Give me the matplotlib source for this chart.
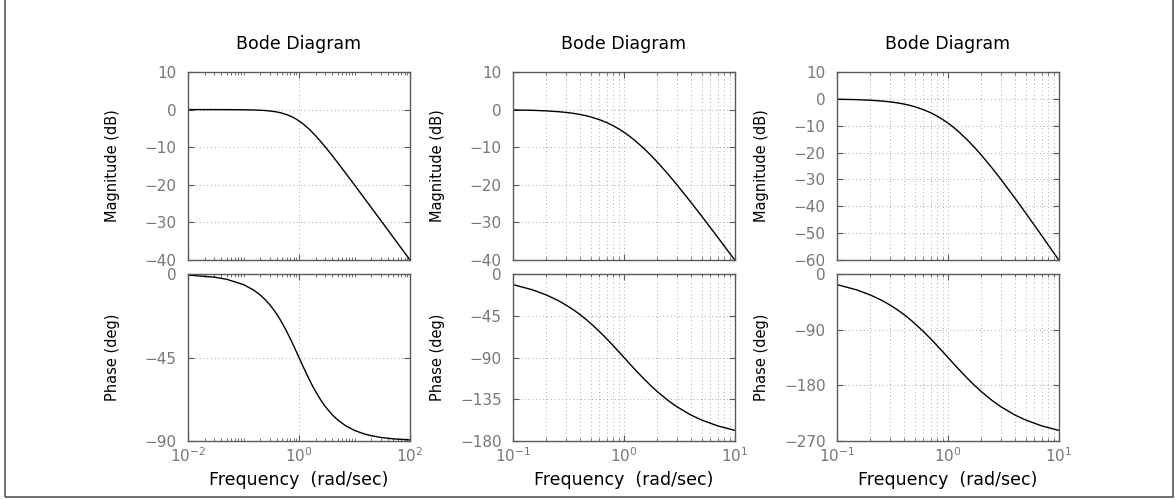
import matplotlib
matplotlib.use("Agg")
import matplotlib.pyplot as plt
from matplotlib.patches import Rectangle
from matplotlib.ticker import LogLocator, NullFormatter

# frequency samples (rad/sec)
w_wide = [0.01, 0.03, 0.05, 0.1, 0.15, 0.2, 0.25, 0.3, 0.35, 0.4, 0.45, 0.5, 0.6, 0.7, 0.8,
          0.9, 1.0, 1.1, 1.25, 1.5, 1.75, 2.0, 2.5, 3.0, 4.0, 5.0, 7.0, 10.0, 15.0, 20.0,
          30.0, 50.0, 100.0]
w_narrow = [0.1, 0.15, 0.2, 0.25, 0.3, 0.35, 0.4, 0.45, 0.5, 0.6, 0.7, 0.8, 0.9, 1.0, 1.1,
            1.25, 1.5, 1.75, 2.0, 2.5, 3.0, 4.0, 5.0, 7.0, 10.0]

# first order
mag1 = [0.0, 0.0, -0.01, -0.04, -0.10, -0.17, -0.26, -0.37, -0.50, -0.64, -0.80, -0.97, -1.34,
        -1.73, -2.15, -2.58, -3.01, -3.44, -4.09, -5.12, -6.09, -6.99, -8.60, -10.0, -12.30,
        -14.15, -16.99, -20.04, -23.54, -26.03, -29.55, -33.98, -40.0]
phase1 = [-0.57, -1.72, -2.86, -5.71, -8.53, -11.31, -14.04, -16.70, -19.29, -21.80, -24.23,
          -26.57, -30.96, -34.99, -38.66, -41.99, -45.0, -47.73, -51.34, -56.31, -60.26,
          -63.43, -68.20, -71.57, -75.96, -78.69, -81.87, -84.29, -86.19, -87.14, -88.09,
          -88.85, -89.43]

# second order
mag2 = [-0.09, -0.19, -0.34, -0.53, -0.74, -1.00, -1.29, -1.60, -1.94, -2.67, -3.46, -4.30,
        -5.16, -6.02, -6.89, -8.18, -10.24, -12.18, -13.98, -17.20, -20.0, -24.61, -28.30,
        -33.98, -40.09]
phase2 = [-11.42, -17.06, -22.62, -28.07, -33.40, -38.58, -43.60, -48.46, -53.13, -61.93,
          -69.98, -77.32, -83.97, -90.0, -95.46, -102.68, -112.62, -120.51, -126.87, -136.40,
          -143.13, -151.93, -157.38, -163.74, -168.58]

# third order
mag3 = [-0.13, -0.29, -0.51, -0.79, -1.11, -1.50, -1.93, -2.40, -2.91, -4.01, -5.19, -6.45,
        -7.74, -9.03, -10.33, -12.27, -15.37, -18.27, -20.97, -25.80, -30.0, -36.91, -42.45,
        -50.97, -60.13]
phase3 = [-17.14, -25.59, -33.94, -42.11, -50.10, -57.87, -65.41, -72.69, -79.70, -92.90,
          -104.97, -115.97, -125.96, -135.0, -143.19, -154.02, -168.93, -180.77, -190.30,
          -204.60, -214.70, -227.89, -236.08, -245.61, -252.86]

mag_ticks_a = [10, 0, -10, -20, -30, -40]
mag_ticks_b = [10, 0, -10, -20, -30, -40, -50, -60]
phase_ticks = [[0, -45, -90], [0, -45, -90, -135, -180], [0, -90, -180, -270]]

panels = [
    (w_wide, mag1, phase1, (1e-2, 1e2), [1e-2, 1e0, 1e2], mag_ticks_a, phase_ticks[0], False),
    (w_narrow, mag2, phase2, (1e-1, 1e1), [1e-1, 1e0, 1e1], mag_ticks_a, phase_ticks[1], True),
    (w_narrow, mag3, phase3, (1e-1, 1e1), [1e-1, 1e0, 1e1], mag_ticks_b, phase_ticks[2], True),
]

W, H = 1175, 500
lefts = [188, 513, 837]
axw = 222
edge = "#5a5a5a"
tickc = "#777777"
gridkw = dict(color="#8c8c8c", linestyle=(0, (1, 3.5)), linewidth=0.6)

fig = plt.figure(figsize=(11.75, 5), dpi=100)
fig.patches.append(Rectangle((5 / W, 3 / H), 1168 / W, 992 / H, transform=fig.transFigure,
                             fill=False, edgecolor="#555555", linewidth=1.2))


def minus(vals):
    return [str(v).replace("-", "\u2212") for v in vals]


def style(ax, minor_grid):
    for s in ax.spines.values():
        s.set_color(edge)
        s.set_linewidth(1.0)
    ax.tick_params(which="both", direction="in", top=True, right=True, colors=edge,
                   labelcolor=tickc, labelsize=11)
    ax.tick_params(axis="y", pad=8)
    ax.tick_params(axis="x", pad=4)
    ax.tick_params(which="major", length=4)
    ax.tick_params(which="minor", length=2)
    ax.xaxis.set_minor_locator(LogLocator(base=10, subs=range(1, 10), numticks=50))
    ax.xaxis.set_minor_formatter(NullFormatter())
    ax.grid(True, which="major", **gridkw)
    if minor_grid:
        ax.grid(True, which="minor", axis="x", **gridkw)


for left, (w, mag, ph, xl, xt, mt, pt, mg) in zip(lefts, panels):
    axm = fig.add_axes([left / W, 1 - 260 / H, axw / W, 188 / H])
    axp = fig.add_axes([left / W, 1 - 441 / H, axw / W, 167 / H])

    axm.semilogx(w, mag, color="black", linewidth=1.0)
    axp.semilogx(w, ph, color="black", linewidth=1.0)

    for ax in (axm, axp):
        ax.set_xlim(*xl)
        ax.set_xticks(xt)
        style(ax, mg)

    axm.set_ylim(mt[-1], mt[0])
    axm.set_yticks(mt)
    axm.set_yticklabels(minus(mt))
    axm.tick_params(labelbottom=False)
    axp.set_ylim(pt[-1], pt[0])
    axp.set_yticks(pt)
    axp.set_yticklabels(minus(pt))

    axm.set_ylabel("Magnitude (dB)", fontsize=10.5)
    axp.set_ylabel("Phase (deg)", fontsize=10.5)
    axm.yaxis.set_label_coords(-68 / axw, 0.5)
    axp.yaxis.set_label_coords(-68 / axw, 0.5)

    axm.text(0.5, 1 + 28 / 188, "Bode Diagram", transform=axm.transAxes,
             ha="center", va="center", fontsize=12.5)
    axp.set_xlabel("Frequency  (rad/sec)", fontsize=12.5)
    axp.xaxis.set_label_coords(0.5, -30 / 167)

fig.savefig("out.png", dpi=100)
